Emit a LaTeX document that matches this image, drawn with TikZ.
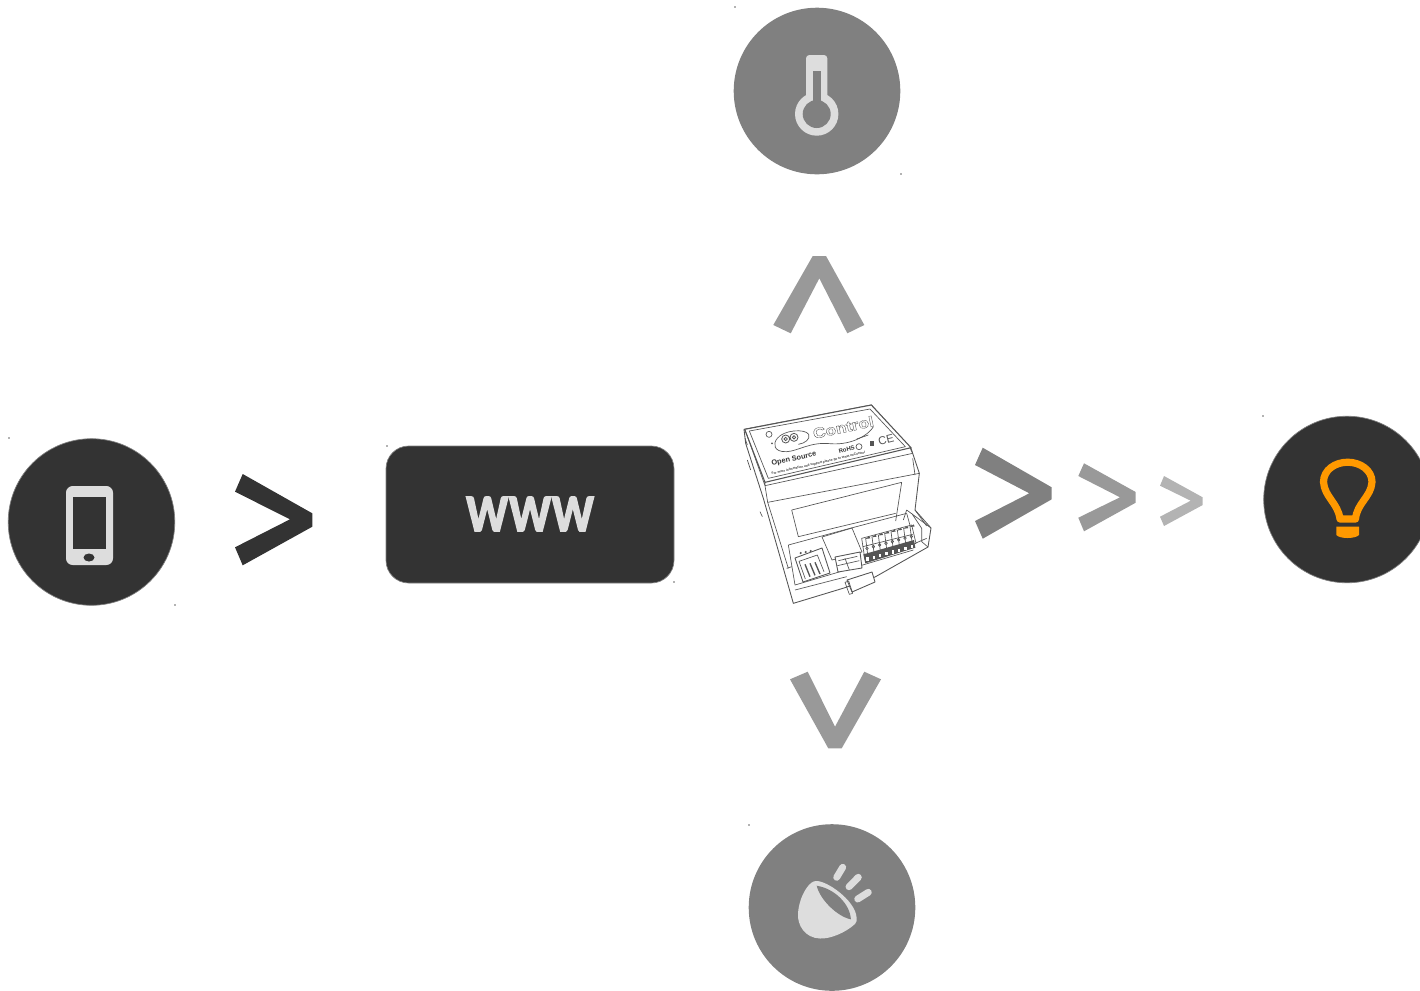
\documentclass[tikz,border=0pt]{standalone}
\usepackage{fontspec}
\setmainfont{Liberation Sans}
\newfontfamily\wwwfont{Lato}
\definecolor{dark}{HTML}{333333}
\definecolor{midg}{HTML}{808080}
\definecolor{chevA}{HTML}{999999}
\definecolor{chevB}{HTML}{B3B3B3}
\definecolor{icon}{HTML}{DDDDDD}
\definecolor{bulb}{HTML}{FF9900}
\definecolor{ink}{HTML}{555555}
\tikzset{
  disc/.style={circle,minimum size=166.6*0.75pt,inner sep=0pt},
  darkdisc/.style={disc,fill=dark,draw=midg,line width=0.5pt},
  greydisc/.style={disc,fill=midg},
  speck/.style={fill=chevB,minimum size=0.8pt,inner sep=0pt},
  wire/.style={draw=ink,line width=0.65pt,line join=round,fill=white},
  thin wire/.style={draw=ink,line width=0.5pt,line join=round},
}
\begin{document}
\begin{tikzpicture}[x=0.75pt,y=-0.75pt]
\useasboundingbox (0,0) rectangle (1420,990);
\clip (0,0) rectangle (1420,990);
% discs
\node[darkdisc] (phone) at (91.5,522) {};
\node[darkdisc] (lamp) at (1347,499.5) {};
\node[greydisc] (temp) at (817,91) {};
\node[greydisc] (spot) at (832,907.5) {};
% www box
\node[draw=midg,line width=0.5pt,fill=dark,rounded corners=17pt,minimum width=288*0.75pt,minimum height=137*0.75pt,inner sep=0pt] (web) at (530,514.5) {};
\node[text=icon,font=\wwwfont\bfseries\fontsize{50pt}{50pt}\selectfont,inner sep=0pt,xscale=0.8] (wwwtext) at (530,514) {\special{pdf:code 2 Tr 1.1 w}www\special{pdf:code 0 Tr 0.4 w}};
% phone icon
\fill[icon,rounded corners=5pt] (66,486) rectangle (113,565);
\fill[dark] (73,497) rectangle (106,549);
\fill[dark] (89,557.5) ellipse [x radius=5.5,y radius=4];
% thermometer
\fill[icon,rounded corners=2.5pt] (806,55) rectangle (827.3,108);
\fill[icon] (816.7,114) circle [radius=21.7];
\fill[midg] (813.3,70.7) rectangle (821,105);
\fill[midg] (816.7,114) circle [radius=14];
% spot
\fill[icon] (815.7,881) .. controls (826,880) and (855,900) .. (856.5,917) .. controls (857,920) and (857,922) .. (855,924) .. controls (845,933) and (830,939) .. (820,938.5) .. controls (805,938) and (797,925) .. (798,913) .. controls (799,900) and (805,888) .. (811,883) .. controls (812.5,882) and (814,881) .. (815.7,881) -- cycle;
\fill[midg] (816.7,885.7) .. controls (836,889) and (850,905) .. (851,919.3) .. controls (838,917) and (820,900) .. (816.7,885.7) -- cycle;
\draw[icon,line width=5.2pt,line cap=round] (842.7,867.3) -- (836.7,877.3);
\draw[icon,line width=5.2pt,line cap=round] (858.3,877.3) -- (849,886.7);
\draw[icon,line width=5.2pt,line cap=round] (868.3,892.3) -- (857.7,899);
% bulb
\draw[bulb,line width=5.4pt,line join=round] (1340,519) .. controls (1338,503) and (1324.5,497) .. (1323.5,482) .. controls (1323.5,470) and (1335,462.2) .. (1347.7,462.2) .. controls (1360,462.2) and (1372,470) .. (1372,482) .. controls (1371,497) and (1357,503) .. (1355.5,519) -- cycle;
\fill[bulb] (1336.3,526.7) -- (1359,526.7) -- (1359,535) .. controls (1355,539) and (1340,539) .. (1336.3,535) -- cycle;
% chevrons
\fill[dark] (242.7,474) -- (235,491.7) -- (290,519.3) -- (235,547.3) -- (242.7,565.3) -- (312.3,526.7) -- (312.3,513.3) -- cycle;
\fill[midg] (982.7,447.7) -- (975,465) -- (1029.3,493.3) -- (975,521) -- (982.7,538.7) -- (1051.7,499.3) -- (1051.7,487.3) -- cycle;
\fill[chevA] (1084,463.3) -- (1078.3,476) -- (1120,497.3) -- (1078.3,517.7) -- (1084,531.3) -- (1135.7,502.7) -- (1135.7,492) -- cycle;
\fill[chevB] (1164,476) -- (1160,485.7) -- (1190.7,500.7) -- (1160,516.7) -- (1164,526) -- (1202.7,505) -- (1202.7,497.3) -- cycle;
\fill[chevA] (812.7,256) -- (826,256) -- (864.3,325) -- (847.3,333.3) -- (819.3,278.3) -- (790.7,333.3) -- (773.3,325) -- cycle;
\fill[chevA] (790,679.3) -- (807.7,671.7) -- (835,726.7) -- (864.3,671.7) -- (881,679.3) -- (841.7,748.3) -- (828.3,748.3) -- cycle;
% specks
\foreach \p/\n in {{(9,438)}/a,{(175,605)}/b,{(387,446)}/c,{(674,582)}/d,{(735,7)}/e,{(901,174)}/f,{(749,825)}/g,{(1263,416)}/h}
  \node[speck] (speck\n) at \p {};
% controller, in units of a third of a pixel
\begin{scope}[shift={(730,395)},x=0.25pt,y=-0.25pt]
  % body silhouette
  \path[wire] (42,103) -- (47,145) -- (100,310) -- (190,625) -- (345,578) -- (435,546) -- (594,456) -- (603,399) -- (555,345) -- (568,235) -- (548,175) -- (540,158) -- (424,30) -- cycle;
  % side notch
  \draw[thin wire] (45,130) -- (52,150) (52,195) -- (62,225) (90,350) -- (97,365);
  % top plate
  \draw[wire,line width=0.8pt] (44,103) -- (424,30) -- (543,158) -- (105,262) -- cycle;
  \draw[thin wire] (58,108) -- (420,42) -- (526,155) -- (115,250) -- cycle;
  \draw[thin wire] (44,103) -- (50,118) -- (105,272) -- (105,262) (105,272) -- (548,175) -- (543,158);
  % upper band
  \draw[thin wire] (113,322) -- (568,235);
  \draw[thin wire] (105,272) -- (113,322) -- (175,520);
  \draw[thin wire] (548,190) -- (555,240);
  % window
  \draw[thin wire] (185,345) -- (515,262) -- (497,378) (185,345) -- (205,425) -- (497,355);
  % connector shelf
  \draw[thin wire] (175,450) -- (360,400) -- (530,355) (175,450) -- (195,570) -- (550,465);
  \draw[thin wire] (170,520) -- (185,515) (195,585) -- (350,545);
  \draw[thin wire] (530,345) -- (603,399) (545,355) -- (575,400) -- (575,440) -- (594,456) (530,355) -- (555,445) -- (590,430);
  \draw[thin wire] (530,345) -- (520,375) (555,345) -- (590,393);
  % latch
  \draw[wire] (351,555) -- (426,531) -- (435,561) -- (366,591) -- cycle;
  \draw[thin wire] (345,562) -- (356,558) -- (368,595) -- (358,598) -- cycle;
  % left connector
  \draw[wire] (195,489) -- (276,459) -- (300,534) -- (219,561) -- cycle;
  \draw[thin wire] (207,499) -- (262,480) -- (282,530) (207,499) -- (226,552);
  \foreach \k in {0,1,2}{
    \draw[ink,line width=1pt] (225+15*\k,508-3*\k) -- (240+15*\k,545-4*\k);
    \fill[ink] (212+15*\k,474-3*\k) circle [radius=3.5];
  }
  % network port
  \draw[thin wire] (276,426) -- (366,399) -- (396,471) -- (306,495) -- cycle;
  \draw[wire] (315,486) -- (390,471) -- (396,519) -- (324,531) -- cycle;
  \draw[thin wire] (325,497) -- (382,484) (345,490) -- (358,525) (322,512) -- (388,497);
  % terminal block
  \fill[white] (395,430) -- (545,390) -- (558,445) -- (405,495) -- cycle;
  \draw[thin wire] (395,430) -- (545,390) -- (558,445) -- (405,495) -- cycle;
  \fill[ink] (400,478) -- (552,435) -- (556,458) -- (406,505) -- cycle;
  \draw[thin wire] (398,455) -- (548,418);
  \foreach \k in {0,...,7}{
    \draw[thin wire] (407+19*\k,430-5.1*\k) -- (415+19*\k,495-5.6*\k);
    \fill[white] (409+19*\k,487-5.3*\k) rectangle (416+19*\k,497-5.3*\k);
    \draw[thin wire] (411+19*\k,460-5.1*\k) circle [radius=4];
    \fill[ink] (405+19*\k,432-5.1*\k) -- (418+19*\k,424-5.1*\k) -- (421+19*\k,430-5.1*\k) -- cycle;
  }
  % plate markings
  \draw[thin wire] (117,118) circle [radius=9];
  \fill[ink] (126,145) circle [radius=3];
  \draw[thin wire] (142,130) .. controls (128,145) and (130,172) .. (170,170) .. controls (205,168) and (240,140) .. (300,146) .. controls (370,152) and (420,115) .. (430,95);
  \draw[thin wire] (142,130) .. controls (160,105) and (225,100) .. (236,118) .. controls (242,132) and (225,145) .. (205,148);
  \draw[ink,line width=0.6pt] (167,132) circle [radius=12] (192,127) circle [radius=12];
  \draw[ink,line width=0.6pt] (167,132) circle [radius=5] (192,127) circle [radius=5];
  \node[rotate=12,inner sep=0pt,text=ink,yscale=0.85,font=\bfseries\fontsize{13pt}{13pt}\selectfont] (logo) at (340,97) {\special{pdf:code 1 Tr 0.3 w}Control\special{pdf:code 0 Tr 0.4 w}};
  \draw[ink,line width=0.5pt] (380,132) -- (415,120);
  \node[rotate=14,inner sep=0pt,text=dark,font=\bfseries\fontsize{4.5pt}{4.5pt}\selectfont] (rohs) at (350,163) {RoHS};
  \draw[thin wire] (387,155) circle [radius=9];
  \fill[ink] (419,139) rectangle (431,153);
  \node[rotate=14,inner sep=0pt,text=ink,font=\fontsize{8.5pt}{8.5pt}\selectfont] (cemark) at (468,135) {CE};
  \node[rotate=12,inner sep=0pt,text=dark,font=\bfseries\fontsize{5.5pt}{5.5pt}\selectfont] (brand) at (192,192) {Open Source};
  \node[rotate=13,inner sep=0pt,text=dark,font=\bfseries\fontsize{2.4pt}{2.4pt}\selectfont] (note) at (265,205) {For more information and support please go to www.ooControl};
\end{scope}
\end{tikzpicture}
\end{document}
